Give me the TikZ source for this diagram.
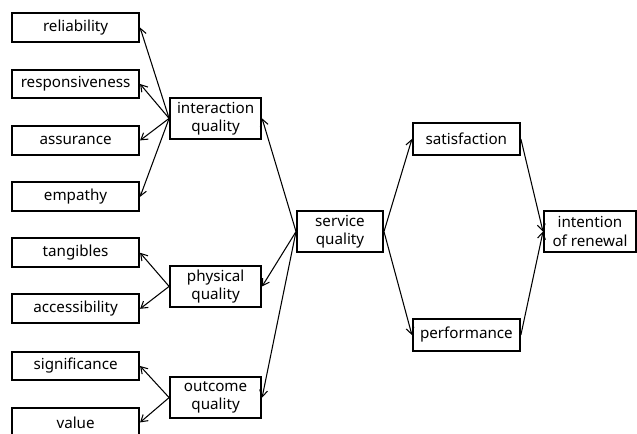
\documentclass[tikz,border=0pt]{standalone}
\usepackage{fontspec}
\setmainfont{Noto Sans}
\usepackage{tikz}
\usetikzlibrary{arrows.meta}

\begin{document}
\begin{tikzpicture}[
    box/.style = {draw, line width = 1.4pt, inner sep = 0pt, align = center,
                  font = \fontsize{10.8}{13}\selectfont},
    small/.style = {box, minimum width = 3.175cm, minimum height = 0.72cm},
    mid/.style = {box, minimum width = 2.275cm, minimum height = 1.02cm},
    link/.style = {line width = 0.75pt, -{Straight Barb[length = 1.6mm, width = 2mm]}}
]
    % Marco de la figura
    \useasboundingbox (0,0) rectangle (15.925,10.85);

    % Dimensiones de la calidad
    \node[small] (rel) at (1.89,10.16) {reliability};
    \node[small] (res) at (1.89,8.75) {responsiveness};
    \node[small] (ass) at (1.89,7.34) {assurance};
    \node[small] (emp) at (1.89,5.93) {empathy};
    \node[small] (tan) at (1.89,4.53) {tangibles};
    \node[small] (acc) at (1.89,3.13) {accessibility};
    \node[small] (sig) at (1.89,1.70) {significance};
    \node[small] (val) at (1.89,0.29) {value};

    % Calidades intermedias
    \node[mid] (iq) at (5.39,7.89) {interaction\\quality};
    \node[mid] (pq) at (5.39,3.69) {physical\\quality};
    \node[mid] (oq) at (5.39,0.91) {outcome\\quality};

    % Calidad de servicio y resultados
    \node[box, minimum width = 2.15cm, minimum height = 1.02cm] (sq) at (8.5,5.06) {service\\quality};
    \node[box, minimum width = 2.675cm, minimum height = 0.8cm] (sat) at (11.66,7.375) {satisfaction};
    \node[box, minimum width = 2.675cm, minimum height = 0.8cm] (per) at (11.66,2.475) {performance};
    \node[box, minimum width = 2.3cm, minimum height = 1.02cm] (ren) at (14.75,5.06) {intention\\of renewal};

    % Flechas
    \foreach \t in {rel, res, ass, emp} \draw[link] (iq.west) -- (\t.east);
    \foreach \t in {tan, acc} \draw[link] (pq.west) -- (\t.east);
    \foreach \t in {sig, val} \draw[link] (oq.west) -- (\t.east);
    \foreach \t in {iq, pq, oq} \draw[link] (sq.west) -- (\t.east);
    \draw[link] (sq.east) -- (sat.west);
    \draw[link] (sq.east) -- (per.west);
    \draw[link] (sat.east) -- (ren.west);
    \draw[link] (per.east) -- (ren.west);

\end{tikzpicture}
\end{document}
